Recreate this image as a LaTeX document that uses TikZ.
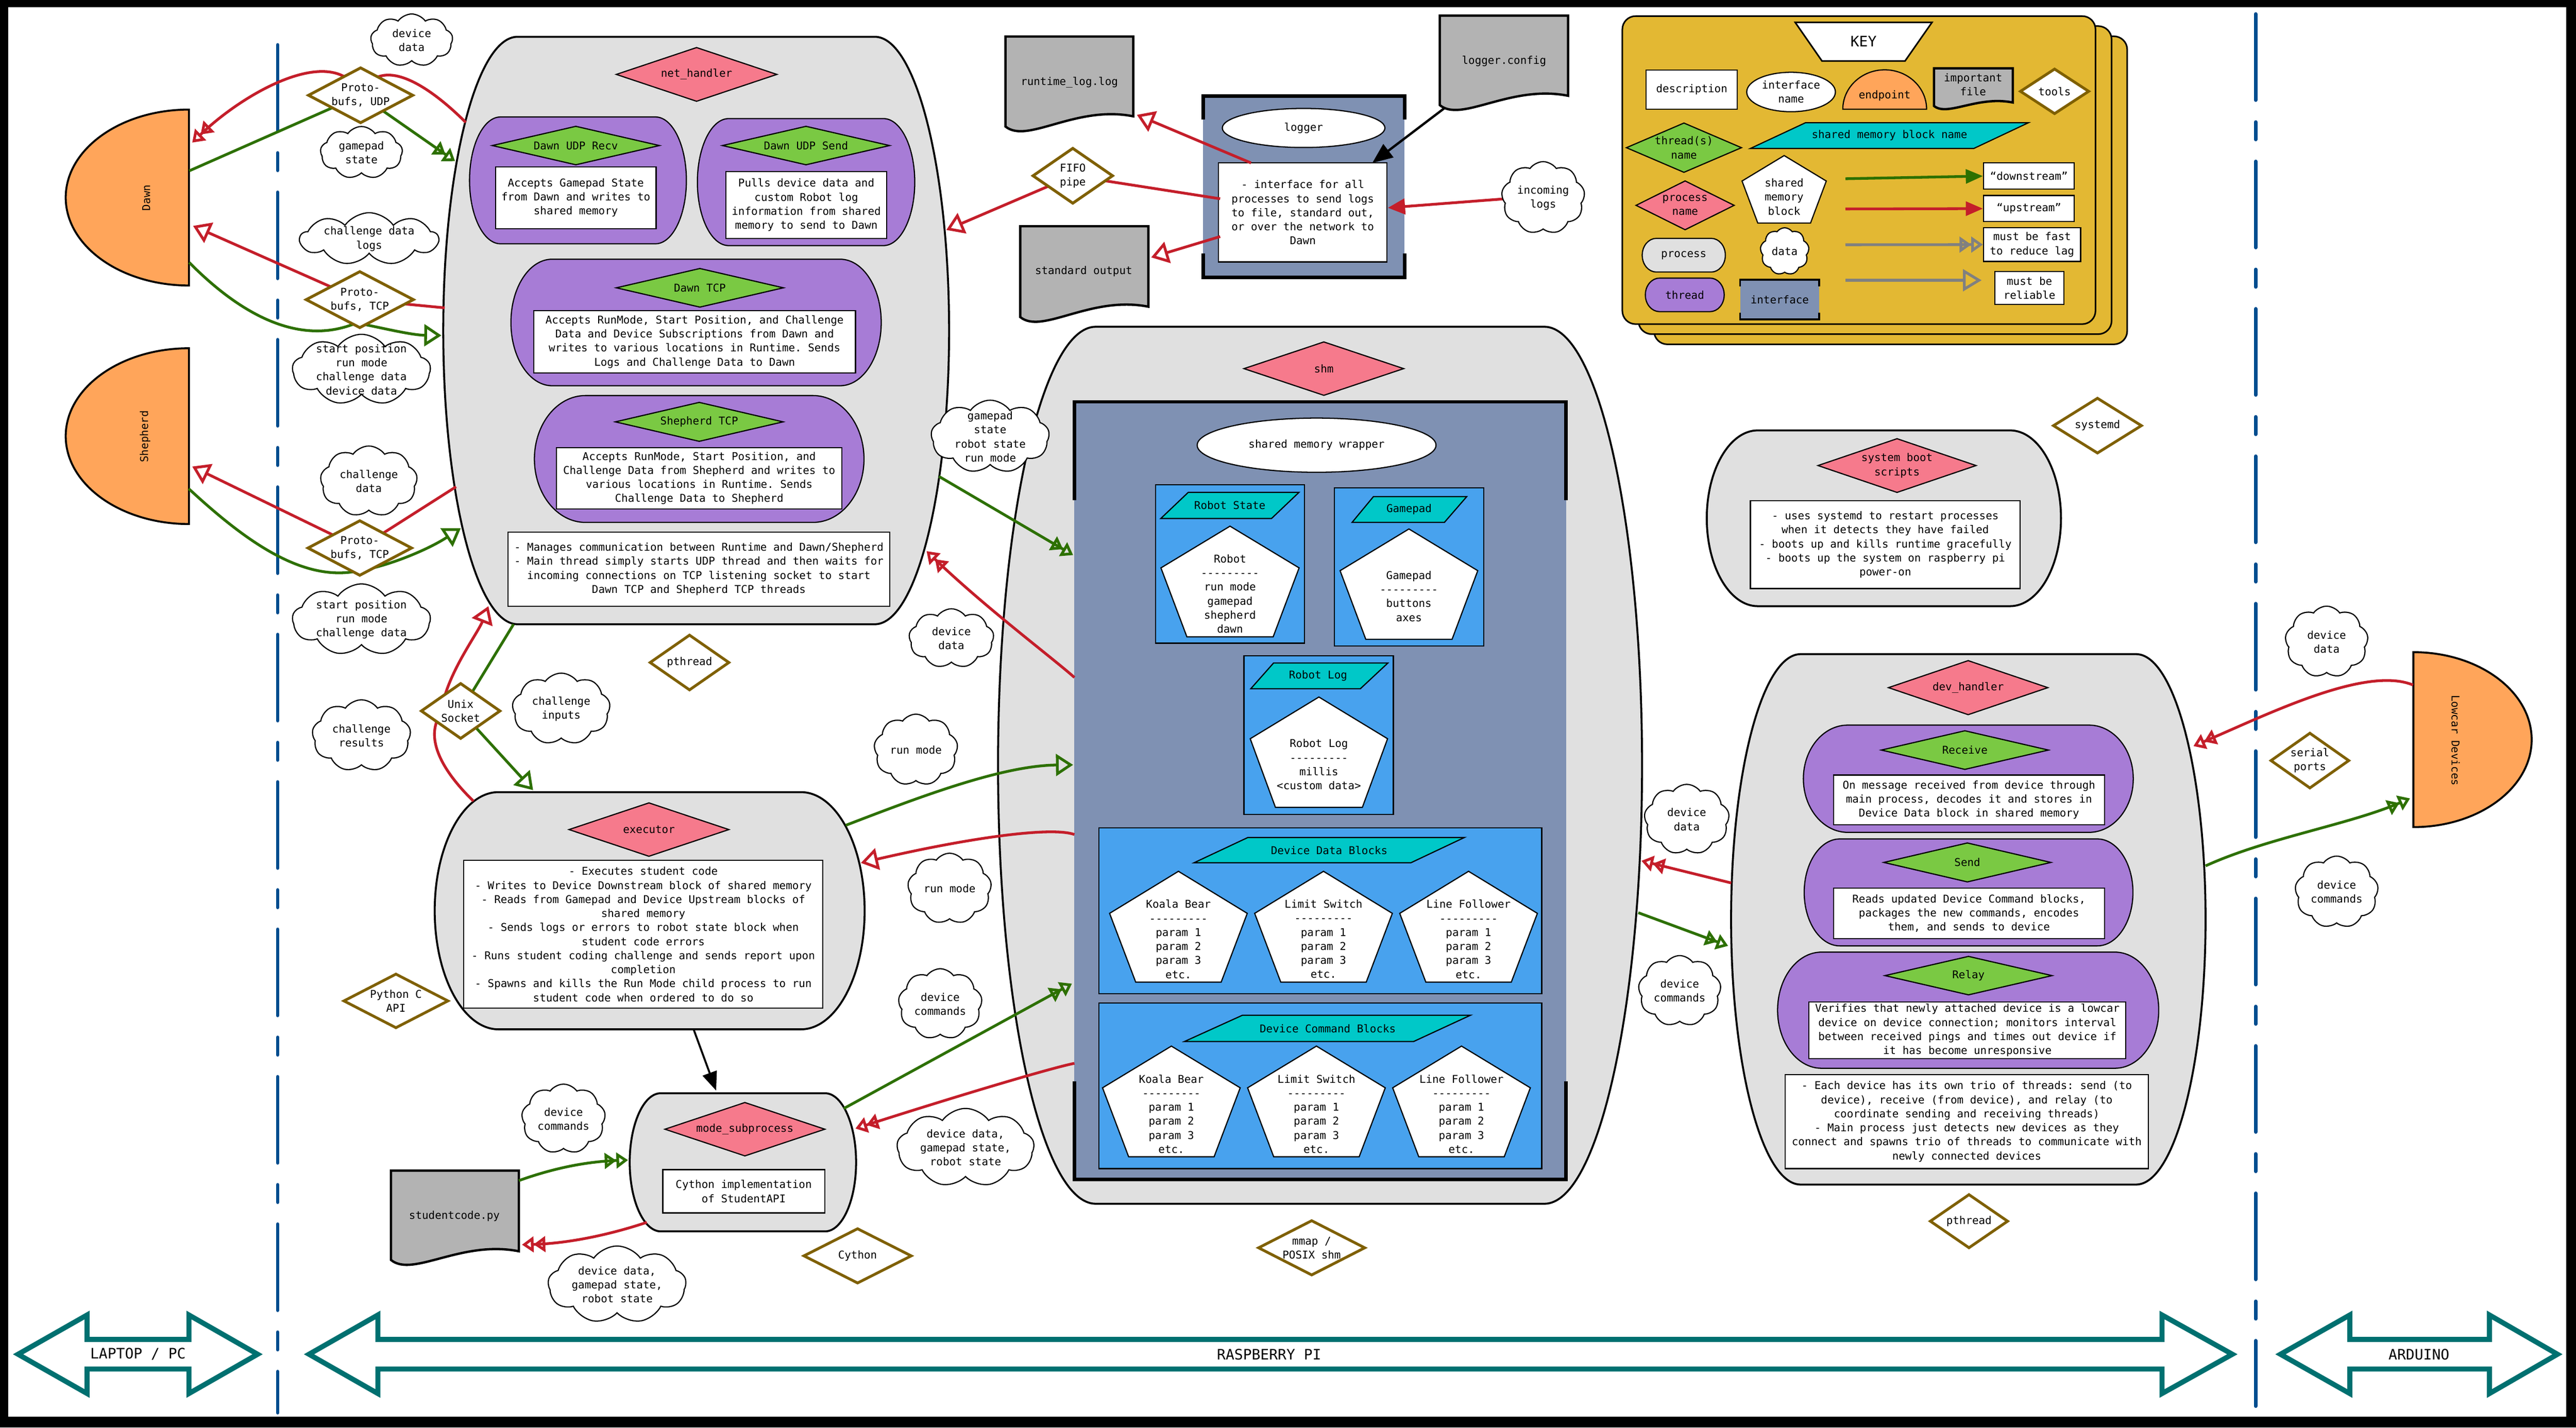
\documentclass[tikz,border=0pt]{standalone}
\usepackage{fontspec}
\setmonofont{DejaVu Sans Mono}
\usetikzlibrary{shapes.geometric,shapes.symbols,arrows.meta,calc}
\definecolor{procgrey}{HTML}{E0E0E0}
\definecolor{thrpurple}{HTML}{A77CD6}
\definecolor{thrgreen}{HTML}{7AC943}
\definecolor{procpink}{HTML}{F67A8C}
\definecolor{shmcyan}{HTML}{00C8C8}
\definecolor{blkblue}{HTML}{48A2EE}
\definecolor{ifblue}{HTML}{7F91B3}
\definecolor{endorange}{HTML}{FFA55A}
\definecolor{filegrey}{HTML}{B3B3B3}
\definecolor{keygold}{HTML}{E3B833}
\definecolor{upred}{HTML}{C41E2A}
\definecolor{downgreen}{HTML}{2D7000}
\definecolor{toolbrown}{HTML}{7F6000}
\definecolor{divblue}{HTML}{004D8F}
\definecolor{tealarr}{HTML}{007070}
\definecolor{keygrey}{HTML}{808080}
\def\U{4.21237pt}
\newcommand{\procbarrel}[6]{%
  \pgfmathsetmacro\pbym{(#4+#5)/2}%
  \pgfmathsetmacro\pbya{\pbym-(#5-#4)/2*0.5523}%
  \pgfmathsetmacro\pbyb{\pbym+(#5-#4)/2*0.5523}%
  \pgfmathsetmacro\pbxa{#3+#6*0.5523}%
  \pgfmathsetmacro\pbxb{#3+#6}%
  \pgfmathsetmacro\pbxc{#2-#6*0.5523}%
  \pgfmathsetmacro\pbxd{#2-#6}%
  \draw[#1] (#2,#4) -- (#3,#4) .. controls (\pbxa,#4) and (\pbxb,\pbya) .. (\pbxb,\pbym) .. controls (\pbxb,\pbyb) and (\pbxa,#5) .. (#3,#5) -- (#2,#5) .. controls (\pbxc,#5) and (\pbxd,\pbyb) .. (\pbxd,\pbym) .. controls (\pbxd,\pbya) and (\pbxc,#4) .. cycle;}
\newcommand{\halfdisk}[4]{%
  \pgfmathsetmacro\hda{#1+#3*0.5523}\pgfmathsetmacro\hdb{#1+#3}%
  \pgfmathsetmacro\hdt{#2-#4}\pgfmathsetmacro\hdu{#2-#4*0.5523}%
  \pgfmathsetmacro\hdv{#2+#4*0.5523}\pgfmathsetmacro\hdw{#2+#4}%
  \draw[endpt] (#1,\hdt) .. controls (\hda,\hdt) and (\hdb,\hdu) .. (\hdb,#2) .. controls (\hdb,\hdv) and (\hda,\hdw) .. (#1,\hdw) -- cycle;}
\newcommand{\filedoc}[5]{%
  \pgfmathsetmacro\fda{#2-0.45*(#2-#1)}\pgfmathsetmacro\fdb{#4-0.09*(#2-#1)}%
  \pgfmathsetmacro\fdc{#1+0.17*(#2-#1)}\pgfmathsetmacro\fdd{#5+0.14*(#2-#1)}%
  \draw[filest] (#1,#3) -- (#2,#3) -- (#2,#4) .. controls (\fda,\fdb) and (\fdc,\fdd) .. (#1,#5) -- cycle;}
\newcommand{\pentag}[6]{%
  \draw[pentst] (#1,#2) -- ({#1+#5},#3) -- ({#1+#6},#4) -- ({#1-#6},#4) -- ({#1-#5},#3) -- cycle;}
\newcommand{\parallelo}[6]{%
  \draw[parst] (#1,#3) -- (#2,#3) -- (#5,#6) -- (#4,#6) -- cycle;}
\newcommand{\ifacebox}[6]{%
  \fill[ifblue] (#1,#3) rectangle (#2,#4);
  \draw[line width=#6] (#1,{#3+#5}) -- (#1,#3) -- (#2,#3) -- (#2,{#3+#5});
  \draw[line width=#6] (#1,{#4-#5}) -- (#1,#4) -- (#2,#4) -- (#2,{#4-#5});}
\newcommand{\mysnode}[7]{%
  \node[#1, minimum width=#5*\U, minimum height=#6*\U] (#2) at (#3,#4) {};
  \node (#2-t) at (#2.center) {#7};}
\newcommand{\dblarrow}[4]{%
  \draw[tealarr, line width=13pt, fill=white] (#1,824.4) -- (#2,800.5) -- (#2,815.4) -- (#3,815.4) -- (#3,800.5) -- (#4,824.4) -- (#3,848.3) -- (#3,833.4) -- (#2,833.4) -- (#2,848.3) -- cycle;}
\begin{document}
\begin{tikzpicture}[x=4.21237pt,y=-4.21237pt,
  every node/.style={font=\ttfamily\fontsize{27.6pt}{36pt}\selectfont, align=center, inner sep=0pt},
  bigtxt/.style={font=\ttfamily\fontsize{37pt}{44pt}\selectfont},
  procst/.style={fill=procgrey, draw=black, line width=5pt},
  thrst/.style={fill=thrpurple, draw=black, line width=3pt},
  pinkd/.style={diamond, draw=black, fill=procpink, line width=3pt},
  greend/.style={diamond, draw=black, fill=thrgreen, line width=3pt},
  toold/.style={diamond, draw=toolbrown, fill=white, line width=7pt},
  cloudst/.style={cloud, cloud puffs=9, cloud puff arc=110, cloud ignores aspect, draw=black, fill=white, line width=3pt},
  descst/.style={rectangle, draw=black, fill=white, line width=3pt},
  blockst/.style={fill=blkblue, draw=black, line width=3pt},
  pentst/.style={fill=white, draw=black, line width=3pt, line join=miter},
  parst/.style={fill=shmcyan, draw=black, line width=3pt},
  endpt/.style={fill=endorange, draw=black, line width=5pt},
  filest/.style={fill=filegrey, draw=black, line width=6pt},
  ellst/.style={ellipse, draw=black, fill=white, line width=3pt},
  keyst/.style={fill=keygold, draw=black, line width=4pt, rounded corners=34pt},
  upln/.style={draw=upred, line width=7pt},
  downln/.style={draw=downgreen, line width=7pt},
  fastarr/.style={-{Triangle[open,length=30pt,width=40pt]Triangle[open,length=30pt,width=40pt]}},
  relarr/.style={-{Triangle[open,length=44pt,width=56pt]}}]
\useasboundingbox (0,0) rectangle (1568,869.1);
\fill[black] (0,0) rectangle (1568,869.1);
\fill[white] (5,4.5) rectangle (1562,862.5);

% ---------- dividers ----------
\draw[divblue, line width=9pt, line cap=round, dash pattern=on 221pt off 56pt on 45pt off 56pt] (169,27.3) -- (169,860);
\draw[divblue, line width=9pt, line cap=round, dash pattern=on 221pt off 56pt on 45pt off 56pt] (1373,8.5) -- (1373,856);

% ---------- bottom zone arrows ----------
\dblarrow{11}{53}{115}{156.8}
\node[bigtxt] (zlap) at (84,824.4) {LAPTOP / PC};
\dblarrow{188.1}{230}{1316}{1358.8}
\node[bigtxt] (zrpi) at (772.5,824.4) {RASPBERRY PI};
\dblarrow{1388.1}{1430.3}{1515.3}{1556.7}
\node[bigtxt] (zard) at (1472.4,824.4) {ARDUINO};

% ---------- KEY ----------
\draw[keyst] (1006.8,22.1) rectangle (1294.8,209.6);
\draw[keyst] (997.3,15.9) rectangle (1285.3,203.4);
\draw[keyst] (987.5,9.8) rectangle (1275.5,197.3);
\draw[fill=white, line width=4pt] (1092.7,13.6) -- (1176,13.6) -- (1159.6,37.1) -- (1109,37.1) -- cycle;
\node[bigtxt] (ktitle) at (1134.3,25.3) {KEY};
\node[descst, minimum width=55.5*\U, minimum height=23.8*\U] (kdesc) at (1029.75,54.6) {description};
\node[ellst, minimum width=54*\U, minimum height=24*\U] (kifn) at (1090.2,56) {interface\\name};
\draw[endpt, line width=3pt] (1121.7,66.5) .. controls (1121.7,53.25) and (1133.1,42.5) .. (1147.2,42.5) .. controls (1161.3,42.5) and (1172.7,53.25) .. (1172.7,66.5) -- cycle;
\node (kend) at (1147.2,58.2) {endpoint};
\filedoc{1177.2}{1225.2}{41.6}{62.4}{64.5}
\node (kfile) at (1201,51.5) {important\\file};
\mysnode{toold}{ktools}{1250.6}{55.6}{42.2}{27.8}{tools}
\mysnode{greend}{kthr}{1025}{89.9}{70.3}{30.3}{thread(s)\\name}
\parallelo{1099}{1234.7}{74.7}{1065.4}{1201.4}{90.4}
\node (kshm) at (1150.1,82.5) {shared memory block name};
\mysnode{pinkd}{kproc}{1025.7}{125}{60}{30}{process\\name}
\pentag{1086}{94.7}{110.2}{135.8}{25.65}{16.05}
\node (kblock) at (1086,119.8) {shared\\memory\\block};
\procbarrel{procst,line width=3pt}{1008.2}{1041.6}{145.1}{165.6}{8.6}
\node (kprocess) at (1024.9,155.4) {process};
\procbarrel{thrst}{1010.1}{1040.9}{169.3}{189.7}{8.6}
\node (kthread) at (1025.5,179.5) {thread};
\mysnode{cloudst}{kdata}{1086.3}{153}{29.7}{28.7}{data}
\ifacebox{1059.2}{1107.4}{170.3}{194.5}{4}{5pt}
\node (kiface) at (1083.3,182.4) {interface};
\node[descst, minimum width=55.3*\U, minimum height=16*\U] (kdown) at (1235,107.2) {“downstream”};
\node[descst, minimum width=55.3*\U, minimum height=15.9*\U] (kup) at (1235,127) {“upstream”};
\node[descst, minimum width=59.1*\U, minimum height=20.5*\U] (kfast) at (1236.9,148.9) {must be fast\\to reduce lag};
\node[descst, minimum width=42*\U, minimum height=20.2*\U] (krel) at (1235.3,175.3) {must be\\reliable};
\coordinate (kda) at (1123.3,108.8);
\coordinate (kua) at (1123.3,127.2);
\coordinate (kfa) at (1123.3,149);
\coordinate (kra) at (1123.3,170.6);
\coordinate (krb) at (1206.2,170.6);
\draw[downln, -{Triangle[length=44pt,width=36pt]}] (kda) -- (kdown.west);
\draw[upln, -{Triangle[length=44pt,width=36pt]}] (kua) -- (kup.west);
\draw[draw=keygrey, line width=7pt, fastarr] (kfa) -- (kfast.west);
\draw[draw=keygrey, line width=7pt, -{Triangle[open,length=48pt,width=56pt]}] (kra) -- (krb);

% ---------- endpoints ----------
\halfdisk{115}{120.25}{-75}{53.55}
\node[rotate=90] (dawn) at (89,120.4) {Dawn};
\halfdisk{115}{265.5}{-75}{53.5}
\node[rotate=90] (shepherd) at (88.3,265.7) {Shepherd};
\halfdisk{1469}{450.25}{72}{53.25}
\node[rotate=-90] (lowcar) at (1494.7,450.7) {Lowcar Devices};

% ---------- net_handler ----------
\procbarrel{procst}{315}{532.5}{22.4}{380}{45.2}
\mysnode{pinkd}{neth}{424}{45.3}{98}{33}{net\_handler}
\procbarrel{thrst}{304.6}{399}{71.2}{148.4}{18.8}
\mysnode{greend}{udpr}{350.5}{88.6}{102}{23.7}{Dawn UDP Recv}
\node[descst, minimum width=97.8*\U, minimum height=37.6*\U] (udprd) at (350.5,120.4) {Accepts Gamepad State\\from Dawn and writes to\\shared memory};
\procbarrel{thrst}{443.5}{537.8}{72.2}{149.5}{19}
\mysnode{greend}{udps}{490.6}{88.6}{102}{23.7}{Dawn UDP Send}
\node[descst, minimum width=97.8*\U, minimum height=40.6*\U] (udpsd) at (490.8,124.8) {Pulls device data and\\custom Robot log\\information from shared\\memory to send to Dawn};
\procbarrel{thrst}{336}{511.4}{157.8}{234.8}{25}
\mysnode{greend}{dtcp}{426}{175.2}{102}{23.8}{Dawn TCP}
\node[descst, minimum width=195.8*\U, minimum height=37.8*\U] (dtcpd) at (422.8,208.1) {Accepts RunMode, Start Position, and Challenge\\Data and Device Subscriptions from Dawn and\\writes to various locations in Runtime. Sends\\Logs and Challenge Data to Dawn};
\procbarrel{thrst}{356.3}{494.9}{240.8}{318}{31}
\mysnode{greend}{stcp}{425.6}{256.8}{102.4}{24}{Shepherd TCP}
\node[descst, minimum width=173.8*\U, minimum height=37.4*\U] (stcpd) at (425.6,291.1) {Accepts RunMode, Start Position, and\\Challenge Data from Shepherd and writes to\\various locations in Runtime. Sends\\Challenge Data to Shepherd};
\node[descst, minimum width=232.4*\U, minimum height=45.1*\U] (nethd) at (425.4,346.45) {- Manages communication between Runtime and Dawn/Shepherd\\- Main thread simply starts UDP thread and then waits for\\incoming connections on TCP listening socket to start\\Dawn TCP and Shepherd TCP threads};

% ---------- executor ----------
\procbarrel{procst}{303.4}{487.5}{482.2}{626.6}{38.8}
\mysnode{pinkd}{exec}{395}{505}{97.6}{32.8}{executor}
\node[descst, minimum width=218.5*\U, minimum height=90*\U] (execd) at (391.55,568.8) {- Executes student code\\- Writes to Device Downstream block of shared memory\\- Reads from Gamepad and Device Upstream blocks of\\shared memory\\- Sends logs or errors to robot state block when\\student code errors\\- Runs student coding challenge and sends report upon\\completion\\- Spawns and kills the Run Mode child process to run\\student code when ordered to do so};

% ---------- mode_subprocess ----------
\procbarrel{procst}{402.2}{502.2}{665.5}{749.6}{18.9}
\mysnode{pinkd}{mode}{453.4}{687.4}{97.6}{32.8}{mode\_subprocess}
\node[descst, minimum width=98.6*\U, minimum height=26.4*\U] (moded) at (452.7,725.2) {Cython implementation\\of StudentAPI};
\filedoc{238}{315.8}{712.6}{761.7}{767}
\node (stcode) at (276.6,740.3) {studentcode.py};

% ---------- logger ----------
\filedoc{612}{689.8}{22.2}{70.8}{77}
\node (rtlog) at (650.9,50.2) {runtime\_log.log};
\filedoc{876.4}{954.5}{9.5}{58.3}{64}
\node (lgconf) at (915.5,37.2) {logger.config};
\filedoc{621}{699}{137.7}{186.7}{193}
\node (stdout) at (659.6,165.3) {standard output};
\ifacebox{732.3}{855}{58.4}{168.8}{14.5}{9pt}
\node[ellst, minimum width=99*\U, minimum height=23.8*\U] (lgr) at (793.5,77.9) {logger};
\node[descst, minimum width=102.6*\U, minimum height=60.3*\U] (lgd) at (793,129.35) {- interface for all\\processes to send logs\\to file, standard out,\\or over the network to\\Dawn};

% ---------- shm ----------
\procbarrel{procst}{667}{940}{198.9}{732.8}{59.5}
\mysnode{pinkd}{shm}{805.8}{224.4}{97.5}{32.8}{shm}
\ifacebox{654}{953.3}{244.6}{718}{59.8}{9pt}
\node[ellst, minimum width=145.4*\U, minimum height=33*\U] (smw) at (801.4,271) {shared memory wrapper};
\draw[blockst] (703.3,295.1) rectangle (794,391.5);
\parallelo{723.3}{790.7}{299.7}{706.6}{774}{315.6}
\node (rsn) at (748.6,307.6) {Robot State};
\pentag{748.7}{320.3}{345.7}{387.7}{42.05}{26.25}
\node (rsp) at (748.7,361.5) {Robot\\---------\\run mode\\gamepad\\shepherd\\dawn};
\draw[blockst] (812.3,297) rectangle (903.2,393.2);
\parallelo{836}{892.8}{302.3}{823}{879.2}{318}
\node (gpn) at (857.7,310.1) {Gamepad};
\pentag{857.6}{322}{347.4}{389.2}{41.9}{26.25}
\node (gpp) at (857.6,363) {Gamepad\\---------\\buttons\\axes};
\draw[blockst] (757.2,399.2) rectangle (848.1,495.8);
\parallelo{775.2}{844.8}{403.6}{761.3}{828}{419.3}
\node (rln) at (802.3,411.5) {Robot Log};
\pentag{802.8}{424.3}{449.7}{491.5}{41.8}{26.45}
\node (rlp) at (802.8,465.35) {Robot Log\\---------\\millis\\<custom data>};
\draw[blockst] (668.9,504) rectangle (938.4,605);
\parallelo{759.6}{891.4}{509.8}{726.8}{858.8}{525.2}
\node (ddbn) at (809.1,517.5) {Device Data Blocks};
\pentag{717.3}{530.4}{556}{597.9}{41.9}{26}
\node (ddb1) at (717.3,571.7) {Koala Bear\\---------\\param 1\\param 2\\param 3\\etc.};
\pentag{805.6}{530.4}{556}{597.9}{41.9}{26}
\node (ddb2) at (805.6,571.7) {Limit Switch\\---------\\param 1\\param 2\\param 3\\etc.};
\pentag{893.9}{530.4}{556}{597.9}{41.9}{26}
\node (ddb3) at (893.9,571.7) {Line Follower\\---------\\param 1\\param 2\\param 3\\etc.};
\draw[blockst] (668.9,610.5) rectangle (938.4,711.4);
\parallelo{756.3}{895.1}{618}{721}{860.5}{634}
\node (dcbn) at (808.2,626) {Device Command Blocks};
\pentag{713}{636.8}{662.2}{704.2}{41.9}{26}
\node (dcb1) at (713,678.1) {Koala Bear\\---------\\param 1\\param 2\\param 3\\etc.};
\pentag{801.3}{636.8}{662.2}{704.2}{41.9}{26}
\node (dcb2) at (801.3,678.1) {Limit Switch\\---------\\param 1\\param 2\\param 3\\etc.};
\pentag{889.6}{636.8}{662.2}{704.2}{41.9}{26}
\node (dcb3) at (889.6,678.1) {Line Follower\\---------\\param 1\\param 2\\param 3\\etc.};

% ---------- system boot scripts ----------
\procbarrel{procst}{1069.9}{1223.5}{262}{369}{31}
\mysnode{pinkd}{sbs}{1154.7}{283.4}{96.5}{33}{system boot\\scripts}
\node[descst, minimum width=164.3*\U, minimum height=53.4*\U] (sbsd) at (1147.55,331.6) {- uses systemd to restart processes\\when it detects they have failed\\- boots up and kills runtime gracefully\\- boots up the system on raspberry pi\\power-on};

% ---------- dev_handler ----------
\procbarrel{procst}{1096}{1300.2}{398.2}{721.1}{42.3}
\mysnode{pinkd}{devh}{1198}{418.6}{97.3}{33.2}{dev\_handler}
\procbarrel{thrst}{1124.7}{1271.5}{441.4}{506.7}{27}
\mysnode{greend}{recv}{1196}{456.6}{102}{23.8}{Receive}
\node[descst, minimum width=165*\U, minimum height=30.2*\U] (recvd) at (1198.5,486.9) {On message received from device through\\main process, decodes it and stores in\\Device Data block in shared memory};
\procbarrel{thrst}{1119.9}{1276.6}{510.7}{575.8}{21.7}
\mysnode{greend}{send}{1197.5}{525}{102}{24}{Send}
\node[descst, minimum width=165*\U, minimum height=30.7*\U] (sendd) at (1198.5,555.95) {Reads updated Device Command blocks,\\packages the new commands, encodes\\them, and sends to device};
\procbarrel{thrst}{1108.7}{1287.3}{579.6}{650.3}{26.7}
\mysnode{greend}{relay}{1198.2}{593.9}{102}{23.7}{Relay}
\node[descst, minimum width=193*\U, minimum height=34.4*\U] (relayd) at (1197.5,627.2) {Verifies that newly attached device is a lowcar\\device on device connection; monitors interval\\between received pings and times out device if\\it has become unresponsive};
\node[descst, minimum width=221.3*\U, minimum height=57.3*\U] (devhd) at (1197.15,682.75) {- Each device has its own trio of threads: send (to\\device), receive (from device), and relay (to\\coordinate sending and receiving threads)\\- Main process just detects new devices as they\\connect and spawns trio of threads to communicate with\\newly connected devices};

% ---------- tool diamonds (nodes defined before connectors use them) ----------
\mysnode{toold}{pbu}{219.5}{58}{64}{34}{Proto-\\bufs, UDP}
\mysnode{toold}{pbtd}{219}{182.4}{65.8}{34.7}{Proto-\\bufs, TCP}
\mysnode{toold}{pbts}{219}{333.6}{63.6}{33.8}{Proto-\\bufs, TCP}
\mysnode{toold}{unix}{280.4}{432.8}{48.4}{34}{Unix\\Socket}
\mysnode{toold}{fifo}{653}{107}{49}{34}{FIFO\\pipe}

% ---------- connection points ----------
\coordinate (dawnU) at (117,86.8);
\coordinate (dawnUg) at (115.2,104);
\coordinate (dawnT) at (117.5,137.5);
\coordinate (dawnTg) at (115.2,159.8);
\coordinate (shepT) at (117,284);
\coordinate (shepTg) at (114.9,297.5);
\coordinate (lowR) at (1468.8,417);
\coordinate (lowG) at (1467,486);
\coordinate (netU) at (283.5,74.5);
\coordinate (netUg) at (277,98.1);
\coordinate (netT) at (270.7,187.4);
\coordinate (netTg) at (268.7,204.2);
\coordinate (netS) at (277.6,296.3);
\coordinate (netSg) at (280.5,321.5);
\coordinate (netX) at (297.3,369);
\coordinate (netXg) at (312.6,380);
\coordinate (netL) at (576,140);
\coordinate (netM) at (571.5,290);
\coordinate (netMr) at (564,335.5);
\coordinate (exU) at (288.2,487.7);
\coordinate (exUg) at (324.5,481);
\coordinate (exR) at (514.8,502.4);
\coordinate (exRr) at (524,525.3);
\coordinate (exB) at (422.2,626.6);
\coordinate (moT) at (435.9,663.9);
\coordinate (moR) at (513.6,674.8);
\coordinate (moRr) at (520.7,687);
\coordinate (moL) at (382.3,706.2);
\coordinate (moLr) at (393.7,744.1);
\coordinate (scR) at (315.8,718.7);
\coordinate (scRr) at (317.7,757.7);
\coordinate (shN) at (653.2,337.9);
\coordinate (shNr) at (654,412.4);
\coordinate (shE) at (653.2,465.6);
\coordinate (shEr) at (654,508);
\coordinate (shM) at (652.5,598.8);
\coordinate (shMr) at (654,647.3);
\coordinate (shD) at (999.1,524);
\coordinate (shDg) at (997.2,555.6);
\coordinate (dvR) at (1335.1,454.2);
\coordinate (dvG) at (1342.5,527.1);
\coordinate (dvL) at (1053.8,537.5);
\coordinate (dvLg) at (1051.9,575.8);
\coordinate (lgA) at (761.5,99.2);
\coordinate (rtA) at (692,69.9);
\coordinate (lgB) at (742.7,121);
\coordinate (lgC) at (742.7,144);
\coordinate (soA) at (700.7,156.7);
\coordinate (lgD) at (835.3,99.2);
\coordinate (cfA) at (879,66);
\coordinate (lgE) at (844.8,126.5);
\coordinate (incW) at (916.4,121);

% ---------- connectors ----------
\draw[upln,fastarr] (netU) .. controls (265,56) and (232,30) .. (pbu.center) .. controls (205,25) and (150,55) .. (dawnU);
\draw[downln,fastarr] (dawnUg) -- (pbu.center) -- (netUg);
\draw[upln,relarr] (netT) -- (pbtd.center) -- (dawnT);
\draw[downln,relarr] (dawnTg) .. controls (150,195) and (185,210) .. ($(pbtd.south)+(-2,-4)$) .. controls (230,199) and (250,204) .. (netTg);
\draw[upln,relarr] (netS) -- (pbts.center) -- (shepT);
\draw[downln,relarr] (shepTg) .. controls (150,330) and (185,355) .. ($(pbts.south)+(0,-4)$) .. controls (235,345) and (260,335) .. (netSg);
\draw[upln,relarr] (exU) .. controls (270,470) and (260,452) .. ($(unix.center)+(-14,5)$) -- ($(unix.center)+(-10,-8)$) .. controls (276,405) and (291,385) .. (netX);
\draw[downln,relarr] (netXg) -- (unix.center) -- (exUg);
\draw[downln,fastarr] (netM) -- (shN);
\draw[upln,fastarr] (shNr) .. controls (640,400) and (600,370) .. (netMr);
\draw[downln,relarr] (exR) .. controls (560,485) and (610,466) .. (shE);
\draw[upln,relarr] (shEr) .. controls (640,503) and (590,510) .. (exRr);
\draw[downln,fastarr] (moR) -- (shM);
\draw[upln,fastarr] (shMr) .. controls (640,650) and (580,668) .. (moRr);
\draw[line width=5pt, -{Triangle[length=48pt,width=38pt]}] (exB) -- (moT);
\draw[downln,fastarr] (scR) .. controls (340,710) and (360,707) .. (moL);
\draw[upln,fastarr] (moLr) .. controls (370,752) and (345,757) .. (scRr);
\draw[upln,relarr] (lgA) -- (rtA);
\draw[upln,relarr] (lgB) -- (fifo.center) -- (netL);
\draw[upln,relarr] (lgC) -- (soA);
\draw[line width=6pt, -{Triangle[length=52pt,width=42pt]}] (cfA) -- (lgD);
\draw[upln, -{Triangle[length=44pt,width=40pt]}] (incW) -- (lgE);
\draw[upln,fastarr] (lowR) .. controls (1440,405) and (1380,435) .. (dvR);
\draw[downln,fastarr] (dvG) .. controls (1380,510) and (1430,502) .. (lowG);
\draw[upln,fastarr] (dvL) -- (shD);
\draw[downln,fastarr] (shDg) -- (dvLg);

% ---------- tool diamonds on top ----------
\mysnode{toold}{pbu}{219.5}{58}{64}{34}{Proto-\\bufs, UDP}
\mysnode{toold}{pbtd}{219}{182.4}{65.8}{34.7}{Proto-\\bufs, TCP}
\mysnode{toold}{pbts}{219}{333.6}{63.6}{33.8}{Proto-\\bufs, TCP}
\mysnode{toold}{unix}{280.4}{432.8}{48.4}{34}{Unix\\Socket}
\mysnode{toold}{fifo}{653}{107}{49}{34}{FIFO\\pipe}
\mysnode{toold}{pth1}{419.7}{403.3}{48.6}{34}{pthread}
\mysnode{toold}{pyc}{241}{609.3}{64}{33.3}{Python C\\API}
\mysnode{toold}{cyth}{522}{764.5}{66}{33.7}{Cython}
\mysnode{toold}{mmap}{798.4}{759.6}{65.3}{33.7}{mmap /\\POSIX shm}
\mysnode{toold}{sysd}{1276.7}{259.1}{54.2}{34}{systemd}
\mysnode{toold}{serial}{1406}{463}{48}{34}{serial\\ports}
\mysnode{toold}{pth2}{1198.5}{743.4}{47.7}{33}{pthread}

% ---------- data clouds ----------
\mysnode{cloudst}{c1}{250.6}{24.5}{50}{32}{device\\data}
\mysnode{cloudst}{c2}{220}{92.9}{50}{31.8}{gamepad\\state}
\mysnode{cloudst}{c3}{224.7}{145.4}{84}{31.8}{challenge data\\logs}
\mysnode{cloudst}{c4}{220}{225}{84}{43}{start position\\run mode\\challenge data\\device data}
\mysnode{cloudst}{c5}{224.5}{293}{59}{43}{challenge\\data}
\mysnode{cloudst}{c6}{220}{377.2}{84}{43.5}{start position\\run mode\\challenge data}
\mysnode{cloudst}{c7}{220}{447.8}{60}{43.6}{challenge\\results}
\mysnode{cloudst}{c8}{341.6}{431.5}{59.6}{43.5}{challenge\\inputs}
\mysnode{cloudst}{c9}{602.7}{265.8}{72}{44.4}{gamepad\\state\\robot state\\run mode}
\mysnode{cloudst}{c10}{579.1}{388.6}{51.7}{36}{device\\data}
\mysnode{cloudst}{c11}{557.5}{456.5}{51}{43.5}{run mode}
\mysnode{cloudst}{c12}{578}{540.9}{51}{43}{run mode}
\mysnode{cloudst}{c13}{572.3}{611.2}{51}{43}{device\\commands}
\mysnode{cloudst}{c14}{587.7}{698.6}{83.5}{47.7}{device data,\\gamepad state,\\robot state}
\mysnode{cloudst}{c15}{343}{681.1}{51}{42.3}{device\\commands}
\mysnode{cloudst}{c16}{375.6}{782}{84}{47}{device data,\\gamepad state,\\robot state}
\mysnode{cloudst}{c17}{939.3}{120.4}{50.7}{44}{incoming\\logs}
\mysnode{cloudst}{c18}{1416.2}{390.7}{50.5}{43.4}{device\\data}
\mysnode{cloudst}{c19}{1422.3}{543}{50.7}{43.7}{device\\commands}
\mysnode{cloudst}{c20}{1026.7}{498.8}{51.8}{42.7}{device\\data}
\mysnode{cloudst}{c21}{1022.4}{603.2}{50.3}{43}{device\\commands}
\end{tikzpicture}
\end{document}
